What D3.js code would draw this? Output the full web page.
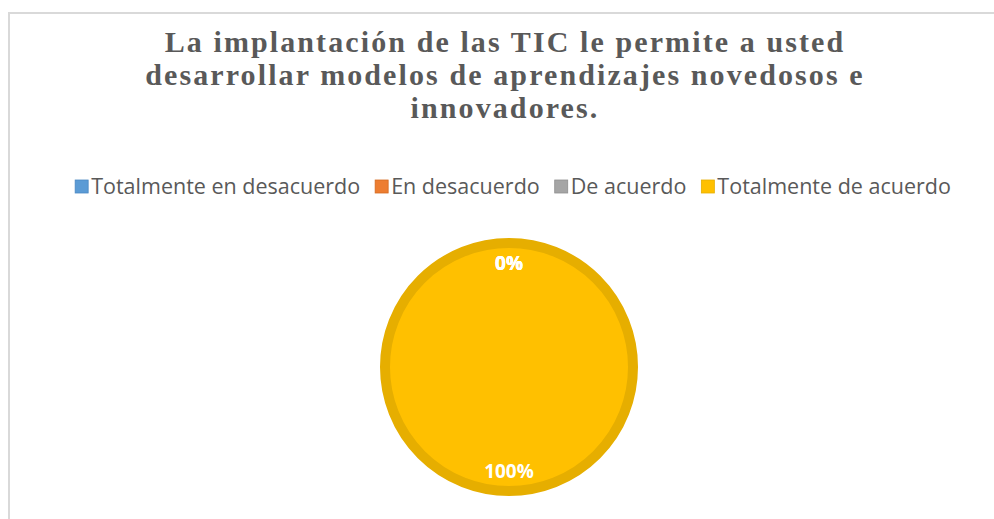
<!DOCTYPE html>
<html>
<head>
<meta charset="utf-8">
<script src="https://d3js.org/d3.v7.min.js"></script>
<style>
  body { margin: 0; background: #fff; }
</style>
</head>
<body>
<div id="chart"></div>
<script>

// chart data
var titleLines = ["La implantación de las TIC le permite a usted",
                  "desarrollar modelos de aprendizajes novedosos e",
                  "innovadores."];
var categories = ["Totalmente en desacuerdo", "En desacuerdo", "De acuerdo", "Totalmente de acuerdo"];
var values = [0, 0, 0, 100];
var colors = ["#5B9BD5", "#ED7D31", "#A5A5A5", "#FFC000"];
var borders = ["#4A88C2", "#D46A20", "#8F8F8F", "#E6AE00"];

var width = 994, height = 519;

var svg = d3.select("#chart")
  .append("svg")
    .attr("width", width)
    .attr("height", height);

// chart area border (only left & top visible in the crop)
svg.append("rect")
  .attr("x", 9).attr("y", 13)
  .attr("width", width + 20).attr("height", height + 20)
  .style("fill", "none")
  .style("stroke", "#D9D9D9")
  .style("stroke-width", 2);

// title
svg.append("text")
  .attr("text-anchor", "middle")
  .style("font-family", "'Liberation Serif', 'Times New Roman', serif")
  .style("font-weight", "bold")
  .style("font-size", "30px")
  .style("letter-spacing", "2.1px")
  .style("fill", "#595959")
  .selectAll("tspan")
  .data(titleLines)
  .enter()
  .append("tspan")
    .attr("x", 505)
    .attr("y", function(d, i) { return 52 + i * 33; })
    .text(function(d) { return d; });

// legend
var legend = svg.append("g");
var legendFont = "21.5px 'Open Sans', 'Noto Sans', sans-serif";
var ctx = document.createElement("canvas").getContext("2d");
ctx.font = legendFont;
var gap = 15, box = 13, pad = 3;
var widths = categories.map(function(c) { return box + pad + ctx.measureText(c).width; });
var total = d3.sum(widths) + gap * (categories.length - 1);
var lx = 513 - total / 2;
categories.forEach(function(c, i) {
  var g = legend.append("g").attr("transform", "translate(" + lx + ",186)");
  g.append("rect")
    .attr("x", 0).attr("y", -6)
    .attr("width", box).attr("height", box)
    .style("fill", colors[i])
    .style("stroke", borders[i])
    .style("stroke-width", 0.8);
  g.append("text")
    .attr("x", box + pad).attr("y", 7.5)
    .style("font", legendFont)
    .style("fill", "#595959")
    .text(c);
  lx += widths[i] + gap;
});

// pie
var cx = 509, cy = 367, r = 129;
var pie = d3.pie().sort(null).value(function(d) { return d.value; });
var data = pie(categories.map(function(c, i) { return {name: c, value: values[i], i: i}; }));

var arc = d3.arc().innerRadius(0).outerRadius(r - 5);
var labelArc = d3.arc().innerRadius(104).outerRadius(104);

var g = svg.append("g").attr("transform", "translate(" + cx + "," + cy + ")");

g.selectAll("path")
  .data(data.filter(function(d) { return d.data.value > 0; }))
  .enter()
  .append("path")
    .attr("d", arc)
    .style("fill", function(d) { return colors[d.data.i]; })
    .style("stroke", function(d) { return borders[d.data.i]; })
    .style("stroke-width", 10);

g.selectAll(".lbl")
  .data(data)
  .enter()
  .append("text")
    .attr("class", "lbl")
    .attr("transform", function(d) { return "translate(" + labelArc.centroid(d) + ")"; })
    .attr("dy", "0.35em")
    .attr("text-anchor", "middle")
    .style("font-family", "'Open Sans', 'Noto Sans', sans-serif")
    .style("font-weight", "bold")
    .style("font-size", "19px")
    .style("fill", "#fff")
    .text(function(d) { return d3.format(".0f")(d.data.value / d3.sum(values) * 100) + "%"; });

</script>
</body>
</html>
